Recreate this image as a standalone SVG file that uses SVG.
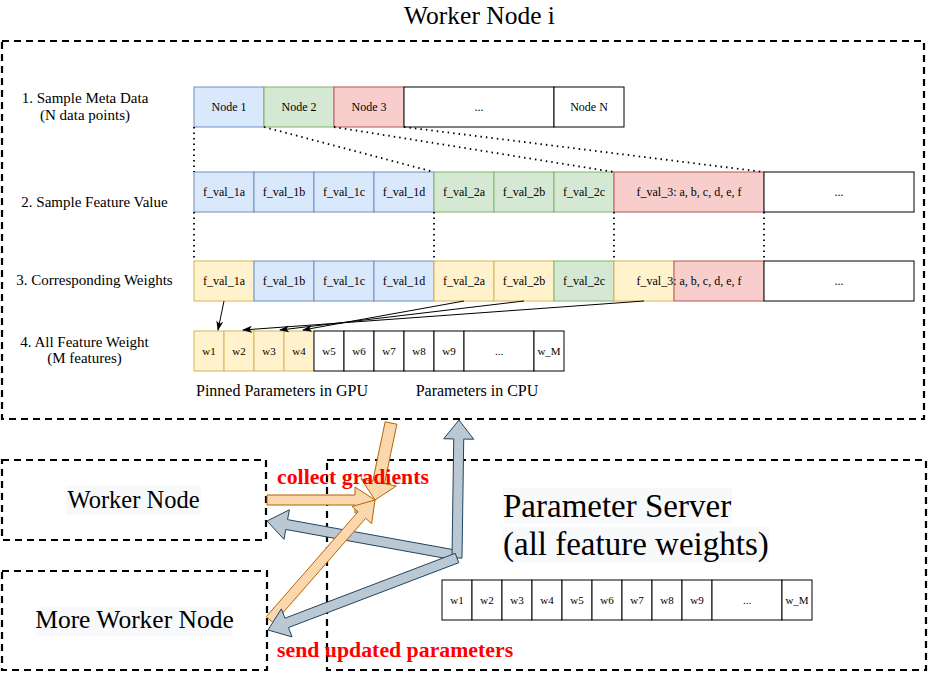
<svg xmlns="http://www.w3.org/2000/svg" width="929" height="691" viewBox="0 0 929 691">
<defs>
<style>
text{font-family:"Liberation Serif","Times New Roman",serif;fill:#000}
.c{font-size:12px;text-anchor:middle}
.w{font-size:11px;text-anchor:middle}
.lab{font-size:15px;text-anchor:middle}
.dash{fill:none;stroke:#000;stroke-width:2.2;stroke-dasharray:7 5}
.blue{fill:#dae8fc;stroke:#6c8ebf}
.green{fill:#d5e8d4;stroke:#82b366}
.red{fill:#f8cecc;stroke:#b85450}
.yel{fill:#fff2cc;stroke:#d6b656}
.wht{fill:#fff;stroke:#000}
.dot{fill:none;stroke:#000;stroke-width:1.8;stroke-dasharray:1.5 4}
.ln{fill:none;stroke:#000;stroke-width:1;marker-end:url(#ah)}
.org{fill:#fad7ac;stroke:#b46504;stroke-width:1}
.gry{fill:#bac8d3;stroke:#23445d;stroke-width:1}
.big{font-size:24.5px;text-anchor:middle}
.redt{font-size:21.8px;font-weight:bold;fill:#ff0000}
.hl{fill:#f8f9fa}
</style>
<marker id="ah" markerWidth="10" markerHeight="8" refX="9" refY="3.5" orient="auto" markerUnits="userSpaceOnUse">
<path d="M0,0 L10,3.5 L0,7 L2.5,3.5 z" fill="#000"/>
</marker>
</defs>

<g id="worker-node-i">
<rect class="dash" x="2" y="41" width="922" height="378"/>
<text x="479.5" y="24" style="font-size:25.5px;text-anchor:middle">Worker Node i</text>
</g>

<g id="labels">
<text class="lab" x="85" y="103">1. Sample Meta Data</text>
<text class="lab" x="85" y="120">(N data points)</text>
<text class="lab" x="94.5" y="207">2. Sample Feature Value</text>
<text class="lab" x="94.5" y="285">3. Corresponding Weights</text>
<text class="lab" x="84.5" y="347">4. All Feature Weight</text>
<text class="lab" x="84.5" y="363">(M features)</text>
<text x="282" y="396" style="font-size:16px;text-anchor:middle">Pinned Parameters in GPU</text>
<text x="477" y="396" style="font-size:16px;text-anchor:middle">Parameters in CPU</text>
</g>

<g id="row1-meta">
<rect class="blue" x="194" y="87" width="70" height="40"/><text class="c" x="229" y="111">Node 1</text>
<rect class="green" x="264" y="87" width="70" height="40"/><text class="c" x="299" y="111">Node 2</text>
<rect class="red" x="334" y="87" width="70" height="40"/><text class="c" x="369" y="111">Node 3</text>
<rect class="wht" x="404" y="87" width="150" height="40"/><text class="c" x="479" y="111">...</text>
<rect class="wht" x="554" y="87" width="70" height="40"/><text class="c" x="589" y="111">Node N</text>
</g>

<g id="row2-features">
<rect class="blue" x="194" y="172" width="60" height="40"/><text class="c" x="224" y="196">f_val_1a</text>
<rect class="blue" x="254" y="172" width="60" height="40"/><text class="c" x="284" y="196">f_val_1b</text>
<rect class="blue" x="314" y="172" width="60" height="40"/><text class="c" x="344" y="196">f_val_1c</text>
<rect class="blue" x="374" y="172" width="60" height="40"/><text class="c" x="404" y="196">f_val_1d</text>
<rect class="green" x="434" y="172" width="60" height="40"/><text class="c" x="464" y="196">f_val_2a</text>
<rect class="green" x="494" y="172" width="60" height="40"/><text class="c" x="524" y="196">f_val_2b</text>
<rect class="green" x="554" y="172" width="60" height="40"/><text class="c" x="584" y="196">f_val_2c</text>
<rect class="red" x="614" y="172" width="150" height="40"/><text class="c" x="689" y="196">f_val_3: a, b, c, d, e, f</text>
<rect class="wht" x="764" y="172" width="150" height="40"/><text class="c" x="839" y="196">...</text>
</g>

<g id="row3-weights">
<rect class="yel" x="194" y="261" width="60" height="40"/><text class="c" x="224" y="285">f_val_1a</text>
<rect class="blue" x="254" y="261" width="60" height="40"/><text class="c" x="284" y="285">f_val_1b</text>
<rect class="blue" x="314" y="261" width="60" height="40"/><text class="c" x="344" y="285">f_val_1c</text>
<rect class="blue" x="374" y="261" width="60" height="40"/><text class="c" x="404" y="285">f_val_1d</text>
<rect class="yel" x="434" y="261" width="60" height="40"/><text class="c" x="464" y="285">f_val_2a</text>
<rect class="yel" x="494" y="261" width="60" height="40"/><text class="c" x="524" y="285">f_val_2b</text>
<rect class="green" x="554" y="261" width="60" height="40"/><text class="c" x="584" y="285">f_val_2c</text>
<rect class="yel" x="614" y="261" width="60" height="40"/>
<rect class="red" x="674" y="261" width="90" height="40"/>
<text class="c" x="689" y="285">f_val_3: a, b, c, d, e, f</text>
<rect class="wht" x="764" y="261" width="150" height="40"/><text class="c" x="839" y="285">...</text>
</g>

<g id="row4-all-weights">
<rect class="yel" x="194" y="331" width="30" height="40"/><text class="w" x="209" y="355">w1</text>
<rect class="yel" x="224" y="331" width="30" height="40"/><text class="w" x="239" y="355">w2</text>
<rect class="yel" x="254" y="331" width="30" height="40"/><text class="w" x="269" y="355">w3</text>
<rect class="yel" x="284" y="331" width="30" height="40"/><text class="w" x="299" y="355">w4</text>
<rect class="wht" x="314" y="331" width="30" height="40"/><text class="w" x="329" y="355">w5</text>
<rect class="wht" x="344" y="331" width="30" height="40"/><text class="w" x="359" y="355">w6</text>
<rect class="wht" x="374" y="331" width="30" height="40"/><text class="w" x="389" y="355">w7</text>
<rect class="wht" x="404" y="331" width="30" height="40"/><text class="w" x="419" y="355">w8</text>
<rect class="wht" x="434" y="331" width="30" height="40"/><text class="w" x="449" y="355">w9</text>
<rect class="wht" x="464" y="331" width="70" height="40"/><text class="w" x="499" y="355">...</text>
<rect class="wht" x="534" y="331" width="30" height="40"/><text class="w" x="549" y="355">w_M</text>
</g>

<g id="worker-node">
<rect class="dash" x="2" y="460" width="264" height="80"/>
<rect class="hl" x="66" y="486" width="135" height="29"/>
<text class="big" x="133.5" y="508">Worker Node</text>
</g>

<g id="more-worker-node">
<rect class="dash" x="2" y="571" width="265" height="99"/>
<rect class="hl" x="37" y="607" width="195" height="29"/>
<text x="134.5" y="628" style="font-size:25.5px;text-anchor:middle">More Worker Node</text>
</g>

<g id="parameter-server">
<rect class="dash" x="327" y="460" width="599" height="210"/>
<rect class="hl" x="503" y="488" width="229" height="35"/>
<rect class="hl" x="503" y="527" width="266" height="36"/>
<text x="503" y="517" style="font-size:33px">Parameter Server</text>
<text x="503" y="555" style="font-size:33px">(all feature weights)</text>
<rect class="wht" x="442" y="580" width="30" height="40"/><text class="w" x="457" y="604">w1</text>
<rect class="wht" x="472" y="580" width="30" height="40"/><text class="w" x="487" y="604">w2</text>
<rect class="wht" x="502" y="580" width="30" height="40"/><text class="w" x="517" y="604">w3</text>
<rect class="wht" x="532" y="580" width="30" height="40"/><text class="w" x="547" y="604">w4</text>
<rect class="wht" x="562" y="580" width="30" height="40"/><text class="w" x="577" y="604">w5</text>
<rect class="wht" x="592" y="580" width="30" height="40"/><text class="w" x="607" y="604">w6</text>
<rect class="wht" x="622" y="580" width="30" height="40"/><text class="w" x="637" y="604">w7</text>
<rect class="wht" x="652" y="580" width="30" height="40"/><text class="w" x="667" y="604">w8</text>
<rect class="wht" x="682" y="580" width="30" height="40"/><text class="w" x="697" y="604">w9</text>
<rect class="wht" x="712" y="580" width="70" height="40"/><text class="w" x="747" y="604">...</text>
<rect class="wht" x="782" y="580" width="30" height="40"/><text class="w" x="797" y="604">w_M</text>
</g>

<g id="connectors">
<line class="dot" x1="194" y1="127" x2="194" y2="172"/>
<line class="dot" x1="264" y1="127" x2="434" y2="172"/>
<line class="dot" x1="334" y1="127" x2="614" y2="172"/>
<line class="dot" x1="404" y1="127" x2="764" y2="172"/>
<line class="dot" x1="194" y1="212" x2="194" y2="261"/>
<line class="dot" x1="434" y1="212" x2="434" y2="261"/>
<line class="dot" x1="614" y1="212" x2="614" y2="261"/>
<line class="dot" x1="764" y1="212" x2="764" y2="261"/>
<line class="ln" x1="224" y1="301" x2="218" y2="330"/>
<line class="ln" x1="464" y1="301" x2="303" y2="330"/>
<line class="ln" x1="524" y1="301" x2="280" y2="330"/>
<line class="ln" x1="644" y1="301" x2="243" y2="330"/>
<polygon class="gry" points="455.89,550.08 287.57,519.64 289.35,509.8 267,521 284.01,539.32 285.79,529.48 454.11,559.92"/>
<polygon class="org" points="267,505 355,505 355,513 375,500 355,487 355,495 267,495"/>
<polygon class="org" points="385.13,421.78 372.79,481.16 361.04,478.72 375,500 396.28,486.04 384.53,483.6 396.87,424.22"/>
<polygon class="org" points="273.76,623.29 365.59,518.34 371.61,523.61 375,500 352.05,506.49 358.07,511.76 266.24,616.71"/>
<polygon class="gry" points="462,558.07 463.72,439.07 473.72,439.22 459,420 443.72,438.78 453.72,438.93 452,557.93"/>
<polygon class="gry" points="455.22,553.33 284.91,618.21 281.35,608.86 268,630 292.03,636.9 288.47,627.55 458.78,562.67"/>
<text class="redt" x="277" y="484">collect gradients</text>
<text class="redt" x="277" y="657">send updated parameters</text>
</g>
</svg>
